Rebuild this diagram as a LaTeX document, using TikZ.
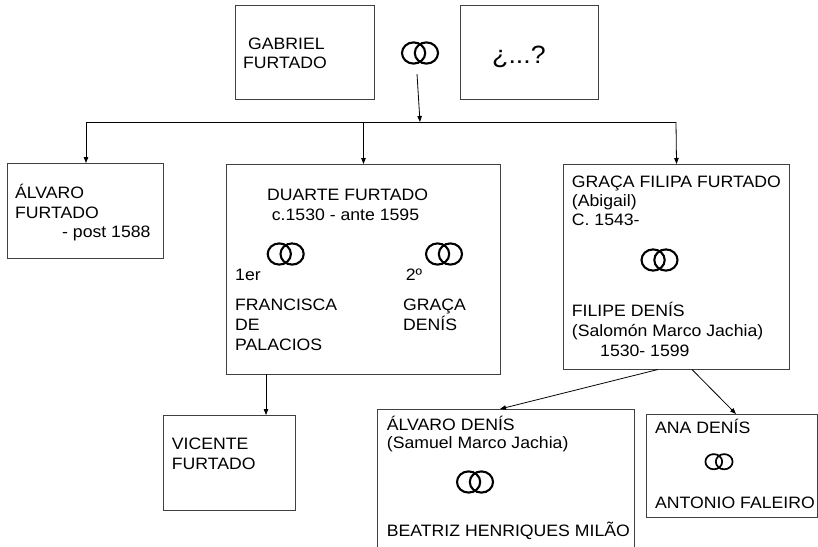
\documentclass[tikz,border=0pt]{standalone}
\usepackage{fontspec}
\setmainfont[FakeStretch=1.07]{Liberation Sans}
\usetikzlibrary{arrows.meta,calc}
\tikzset{
  famb/.style={draw=black!75, line width=1pt, inner sep=0pt, anchor=north west},
  txt/.style={anchor=base west, inner sep=0pt, font=\fontsize{16.5}{20}\selectfont},
  link/.style={draw=black, line width=0.8pt},
  arr/.style={link, -{Triangle[length=6pt,width=4.5pt]}},
  rings/.pic={
    \draw[line width=2.1pt] (-6.4,0) ellipse [x radius=11.6pt, y radius=10.6pt];
    \draw[line width=2.1pt] (6.4,0) ellipse [x radius=11.6pt, y radius=10.6pt];
  },
  smallrings/.pic={
    \draw[line width=1.7pt] (-5.2,0) ellipse [x radius=8.4pt, y radius=7.6pt];
    \draw[line width=1.7pt] (5.2,0) ellipse [x radius=8.4pt, y radius=7.6pt];
  }
}
\begin{document}
\begin{tikzpicture}[x=1pt,y=-1pt]
\useasboundingbox (0,0) rectangle (818,546);
\clip (0,0) rectangle (818,546);

% boxes
\node[famb, minimum width=139pt, minimum height=94pt] (gab) at (235,5) {};
\node[famb, minimum width=138pt, minimum height=94pt] (unk) at (460,5) {};
\node[famb, minimum width=156pt, minimum height=95pt] (alv) at (7,163) {};
\node[famb, minimum width=274pt, minimum height=210pt] (duarte) at (226,164) {};
\node[famb, minimum width=226pt, minimum height=205pt] (graca) at (563,164) {};
\node[famb, minimum width=132pt, minimum height=95pt] (vic) at (163,415) {};
\node[famb, minimum width=257pt, minimum height=160pt] (adenis) at (377,409) {};
\node[famb, minimum width=171pt, minimum height=103pt] (ana) at (646,414) {};

% rings
\coordinate (rg0) at (420,53);
\coordinate (rg1) at (285.7,254);
\coordinate (rg2) at (444,254);
\coordinate (rg3) at (659.5,260);
\coordinate (rg4) at (475,482);
\coordinate (rg5) at (719,461.7);
\pic at (rg0) {rings};
\pic at (rg1) {rings};
\pic at (rg2) {rings};
\pic at (rg3) {rings};
\pic at (rg4) {rings};
\pic at (rg5) {smallrings};

% texts
\node[txt] (t1) at (248,49.3) {GABRIEL};
\node[txt] (t2) at (243,68.3) {FURTADO};
\node[txt, font=\fontsize{25}{30}\selectfont] (t3) at (492,63.3) {¿...?};

\node[txt] (t4) at (15,198.7) {ÁLVARO};
\node[txt] (t5) at (15,218) {FURTADO};
\node[txt] (t6) at (62,237.3) {- post 1588};

\node[txt] (t7) at (267,200.7) {DUARTE FURTADO};
\node[txt] (t8) at (271.7,220.7) {c.1530 - ante 1595};
\node[txt] (t9) at (235,280) {1er};
\node[txt] (t10) at (405.7,280) {2º};
\node[txt] (t11) at (235,310.5) {FRANCISCA};
\node[txt] (t12) at (235,330.3) {DE};
\node[txt] (t13) at (235,350) {PALACIOS};
\node[txt] (t14) at (403,310.5) {GRAÇA};
\node[txt] (t15) at (403,330.3) {DENÍS};

\node[txt] (t16) at (571.7,187.3) {GRAÇA FILIPA FURTADO};
\node[txt] (t17) at (571.7,206.3) {(Abigail)};
\node[txt] (t18) at (571.7,225.7) {C. 1543-};
\node[txt] (t19) at (571.7,316.7) {FILIPE DENÍS};
\node[txt] (t20) at (571.7,336.5) {(Salomón Marco Jachia)};
\node[txt] (t21) at (600,356.7) {1530- 1599};

\node[txt] (t22) at (171.7,449) {VICENTE};
\node[txt] (t23) at (171.7,469) {FURTADO};

\node[txt] (t24) at (386.7,430) {ÁLVARO DENÍS};
\node[txt] (t25) at (386.7,448.5) {(Samuel Marco Jachia)};
\node[txt] (t26) at (386.7,536.7) {BEATRIZ HENRIQUES MILÃO};

\node[txt] (t27) at (655,433.3) {ANA DENÍS};
\node[txt] (t28) at (655,508.3) {ANTONIO FALEIRO};

% connectors
\coordinate (c0) at (417,74);
\coordinate (jt) at (420,122);
\coordinate (hl) at (86,122);
\coordinate (hr) at (676,122);
\draw[arr] (c0) -- (jt);
\draw[link] (hl) -- (hr);
\draw[arr] (hl) -- (hl |- alv.north);
\draw[arr] (duarte.north |- hl) -- (duarte.north);
\draw[arr] (hr) -- (graca.north);
\coordinate (d1) at (266,374);
\draw[arr] (d1) -- (d1 |- vic.north);
\coordinate (g1) at (658,369.5);
\coordinate (a1) at ($(adenis.north west)+(123,0)$);
\draw[arr] (g1) -- (a1);
\coordinate (g2) at (692,369.5);
\coordinate (a2) at ($(ana.north west)+(90,0)$);
\draw[arr] (g2) -- (a2);
\end{tikzpicture}
\end{document}
